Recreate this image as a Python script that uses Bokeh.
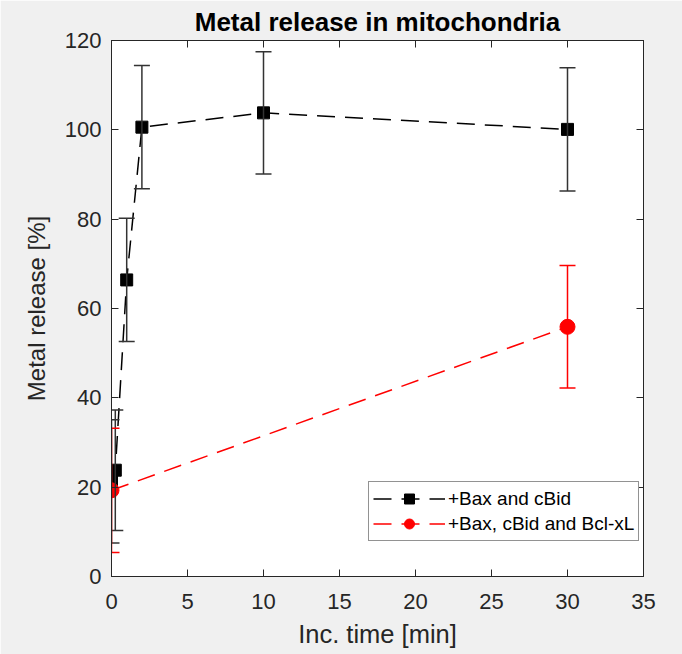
from bokeh.plotting import figure
from bokeh.models import (ColumnDataSource, Whisker, TeeHead, LinearAxis, FixedTicker,
                          Range1d, Legend, LegendItem, CustomJSTickFormatter)
from bokeh.embed import file_html
from bokeh.resources import INLINE

# ---- data ----
bax_time = [0, 0.25, 1, 2, 10, 30]
bax_release = [21.3, 23.8, 66.4, 100.6, 103.8, 100.1]
bax_error = [13.8, 13.5, 13.8, 13.8, 13.7, 13.8]

bcl_time = [0, 30]
bcl_release = [19.3, 55.9]
bcl_error = [13.9, 13.7]

x_ticks = [0, 5, 10, 15, 20, 25, 30, 35]
y_ticks = [0, 20, 40, 60, 80, 100, 120]

series_labels = ["+Bax and cBid", "+Bax, cBid and Bcl-xL"]

FONT = "Liberation Sans"
AX = "#262626"

p = figure(width=682, height=654, output_backend="svg", toolbar_location=None,
           x_range=Range1d(0, 35), y_range=Range1d(0, 120),
           min_border_left=111, min_border_right=39, min_border_top=40,
           min_border_bottom=78)
p.border_fill_color = "#f0f0f0"
p.background_fill_color = "white"
p.outline_line_color = AX
p.outline_line_width = 1
p.grid.visible = False

p.title.text = "Metal release in mitochondria"
p.title.align = "center"
p.title.text_font = FONT
p.title.text_font_size = "26px"
p.title.text_font_style = "bold"
p.title.text_color = "black"
p.title.standoff = 7
p.title.offset = 0

for ax, ticks in ((p.xaxis[0], x_ticks), (p.yaxis[0], y_ticks)):
    ax.ticker = FixedTicker(ticks=ticks)
    ax.major_tick_in = 7
    ax.major_tick_out = 0
    ax.minor_tick_line_color = None
    ax.axis_line_color = AX
    ax.major_tick_line_color = AX
    ax.major_label_text_font = FONT
    ax.major_label_text_font_size = "22px"
    ax.major_label_text_color = AX
    ax.axis_label_text_font = FONT
    ax.axis_label_text_font_style = "normal"
    ax.axis_label_text_color = AX

p.xaxis.axis_label = "Inc. time [min]"
p.yaxis.axis_label = "Metal release [%]"
p.xaxis.axis_label_text_font_size = "25.5px"
p.yaxis.axis_label_text_font_size = "24px"
p.xaxis.major_label_standoff = 17
p.yaxis.major_label_standoff = 10
p.xaxis.axis_label_standoff = 8
p.yaxis.axis_label_standoff = 12

blank = CustomJSTickFormatter(code="return ''")
for loc, ticks in (("above", x_ticks), ("right", y_ticks)):
    ax = LinearAxis(ticker=FixedTicker(ticks=ticks), major_tick_in=7, major_tick_out=0,
                    minor_tick_line_color=None, axis_line_color=AX,
                    major_tick_line_color=AX, formatter=blank,
                    major_label_text_font_size="1px", major_label_standoff=0)
    p.add_layout(ax, loc)

DASH = "18 10"

def add_series(t, v, e, color, marker, msize, ecolor):
    src = ColumnDataSource(dict(t=t, v=v, lo=[a - b for a, b in zip(v, e)],
                                hi=[a + b for a, b in zip(v, e)]))
    w = Whisker(base="t", upper="hi", lower="lo", source=src, dimension="height",
                line_color=ecolor, line_width=1.5, level="glyph",
                upper_head=TeeHead(size=16, line_color=ecolor, line_width=1.5),
                lower_head=TeeHead(size=16, line_color=ecolor, line_width=1.5))
    p.add_layout(w)
    ln = p.line("t", "v", source=src, line_color=color, line_width=1.5, line_dash=DASH)
    mk = p.scatter("t", "v", source=src, marker=marker, size=msize, fill_color=color,
                   line_color=color)
    return [ln, mk]

r1 = add_series(bax_time, bax_release, bax_error, "black", "square", 12, "#333333")
r2 = add_series(bcl_time, bcl_release, bcl_error, "#ff0000", "circle", 15, "#ff0000")

legend = Legend(items=[LegendItem(label=series_labels[0], renderers=r1),
                       LegendItem(label=series_labels[1], renderers=r2)],
                location=(257, 35), margin=0, padding=4, spacing=0,
                glyph_width=72, glyph_height=25, label_height=25, label_standoff=3,
                label_text_font=FONT, label_text_font_size="19px",
                label_text_color="black", border_line_color=AX, border_line_width=1,
                background_fill_color="white", background_fill_alpha=1.0)
p.add_layout(legend, "center")

open("out.html", "w").write(file_html(p, INLINE))
